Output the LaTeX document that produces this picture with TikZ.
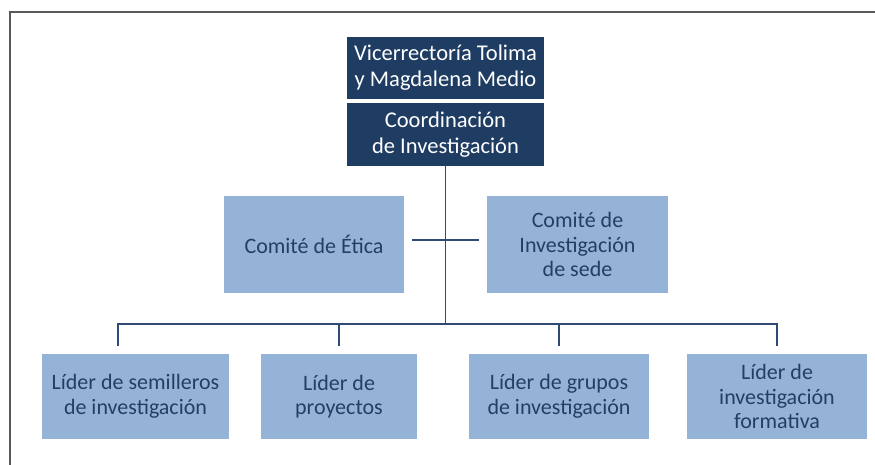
\documentclass[tikz,border=0pt]{standalone}
\usepackage{fontspec}
\setmainfont{Carlito}
\usepackage{tikz}

\definecolor{navybox}{HTML}{1F3D63}
\definecolor{lightbox}{HTML}{95B3D7}
\definecolor{navytext}{HTML}{23405F}
\definecolor{linecol}{HTML}{2F4B73}

\tikzset{
    darkbox/.style={fill=navybox, text=white, align=center, inner sep=0pt,
        font=\fontsize{22.5}{26}\selectfont},
    lightunit/.style={fill=lightbox, text=navytext, align=center, inner sep=0pt,
        font=\fontsize{22}{24.5}\selectfont},
    conn/.style={draw=linecol, line width=1.3pt}
}

\begin{document}
\begin{tikzpicture}[x=1pt, y=1pt]
        \useasboundingbox (0, 0) rectangle (875, 465);

        % Frame
        \draw[gray!70!black, line width=2pt] (10, 0) -- (10, 453) -- (875, 453);

        % Top section
        \node[darkbox, minimum width=197, minimum height=62] (vice) at (445.5, 397) {Vicerrectoría Tolima\\y Magdalena Medio};
        \node[darkbox, minimum width=197, minimum height=63] (coord) at (445.5, 330.5) {Coordinación\\de Investigación};

        % Committees
        \node[lightunit, minimum width=180, minimum height=97] (etica) at (314, 220.5) {Comité de Ética};
        \node[lightunit, minimum width=181, minimum height=97] (sede) at (577.5, 220.5) {Comité de\\Investigación\\de sede};

        % Leaders
        \node[lightunit, minimum width=187, minimum height=85] (semill) at (135.5, 68.5) {Líder de semilleros\\de investigación};
        \node[lightunit, minimum width=156, minimum height=85] (proy) at (339, 68.5) {Líder de\\proyectos};
        \node[lightunit, minimum width=180, minimum height=85] (grupos) at (559, 68.5) {Líder de grupos\\de investigación};
        \node[lightunit, minimum width=180, minimum height=85] (format) at (777, 68.5) {Líder de\\investigación\\formativa};

        % Connectors
        \coordinate (bus) at (445.5, 141);
        \coordinate (crossL) at (412, 225);
        \coordinate (crossR) at (479, 225);
        \coordinate (dropA) at (118, 119);
        \coordinate (dropB) at (339, 119);
        \coordinate (dropC) at (559, 119);
        \coordinate (dropD) at (777, 119);

        \draw[conn] (coord.south) -- (bus);
        \draw[conn] (crossL) -- (crossR);
        \draw[conn] (dropA) |- (bus);
        \draw[conn] (dropB) -- (dropB |- bus);
        \draw[conn] (dropC) -- (dropC |- bus);
        \draw[conn] (dropD) |- (bus);
    \end{tikzpicture}
\end{document}
